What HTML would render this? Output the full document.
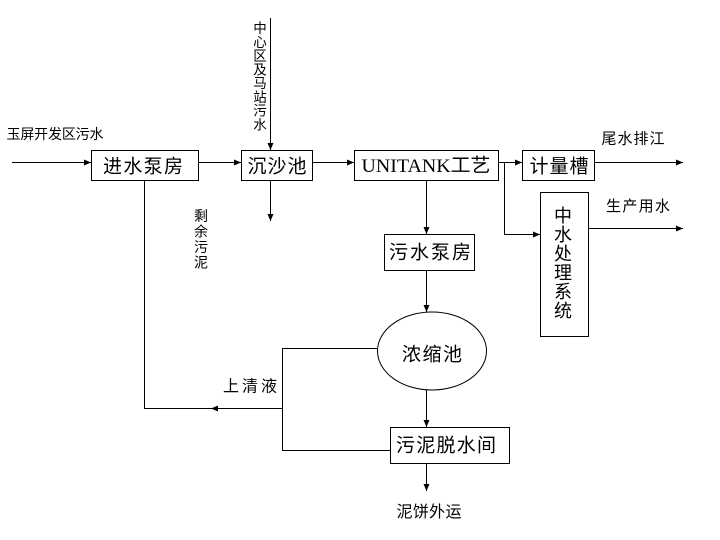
<!DOCTYPE html>
<html><head><meta charset="utf-8"><style>
html,body{margin:0;padding:0;background:#fff;}
svg{display:block;}
text{font-family:"Liberation Sans","Noto Sans CJK SC",sans-serif;fill:#000;dominant-baseline:central;}
.s{font-family:"Liberation Serif","Noto Sans CJK SC",serif;}
</style></head><body>
<svg width="720" height="540" viewBox="0 0 720 540" xmlns="http://www.w3.org/2000/svg">
<defs>
<marker id="a" markerWidth="8" markerHeight="8" refX="7" refY="4" orient="auto" markerUnits="userSpaceOnUse">
<path d="M0,1 L7,4 L0,7 Z" fill="#000"/>
</marker>
</defs>
<g stroke="#000" stroke-width="1" fill="none">
<!-- boxes -->
<rect x="91.5" y="150.5" width="107" height="30"/>
<rect x="241.5" y="150.5" width="71" height="30"/>
<rect x="354.5" y="150.5" width="144" height="30"/>
<rect x="522.5" y="150.5" width="72" height="30"/>
<rect x="540.5" y="192.5" width="48" height="144"/>
<rect x="384.5" y="234.5" width="90" height="36"/>
<ellipse cx="432" cy="351" rx="54.5" ry="39"/>
<rect x="390.5" y="427.5" width="119" height="36"/>
<!-- connectors -->
<line x1="12" y1="162.5" x2="91" y2="162.5" marker-end="url(#a)"/>
<line x1="199" y1="162.5" x2="241" y2="162.5" marker-end="url(#a)"/>
<line x1="313" y1="162.5" x2="354" y2="162.5" marker-end="url(#a)"/>
<line x1="499" y1="162.5" x2="522" y2="162.5" marker-end="url(#a)"/>
<line x1="595" y1="162.5" x2="683" y2="162.5" marker-end="url(#a)"/>
<line x1="270.5" y1="18" x2="270.5" y2="150" marker-end="url(#a)"/>
<line x1="270.5" y1="181" x2="270.5" y2="221" marker-end="url(#a)"/>
<polyline points="504.5,162.5 504.5,234.5 540,234.5" marker-end="url(#a)"/>
<line x1="589" y1="228.5" x2="683" y2="228.5" marker-end="url(#a)"/>
<line x1="426.5" y1="181" x2="426.5" y2="234" marker-end="url(#a)"/>
<line x1="426.5" y1="271" x2="426.5" y2="312" marker-end="url(#a)"/>
<line x1="426.5" y1="390" x2="426.5" y2="427" marker-end="url(#a)"/>
<line x1="426.5" y1="464" x2="426.5" y2="491" marker-end="url(#a)"/>
<polyline points="144.5,181 144.5,408.5 282.5,408.5"/>
<line x1="282.5" y1="408.5" x2="211" y2="408.5" marker-end="url(#a)"/>
<polyline points="378,348.5 282.5,348.5 282.5,450.5 390,450.5"/>
</g>
<!-- box labels -->
<text x="143" y="167" font-size="19" text-anchor="middle" textLength="80" lengthAdjust="spacing">进水泵房</text>
<text x="277" y="167" font-size="19" text-anchor="middle" textLength="59" lengthAdjust="spacing">沉沙池</text>
<text x="426" y="166" font-size="19" text-anchor="middle" textLength="129" lengthAdjust="spacingAndGlyphs"><tspan class="s">UNITANK</tspan>工艺</text>
<text x="559" y="167" font-size="19" text-anchor="middle" textLength="59" lengthAdjust="spacing">计量槽</text>
<text x="430" y="253" font-size="19" text-anchor="middle" textLength="82" lengthAdjust="spacing">污水泵房</text>
<text x="432" y="355" font-size="19" text-anchor="middle" textLength="60" lengthAdjust="spacing">浓缩池</text>
<text x="446" y="446" font-size="19" text-anchor="middle" textLength="100" lengthAdjust="spacing">污泥脱水间</text>
<!-- vertical 中水处理系统 -->
<g font-size="18" text-anchor="middle">
<text x="563" y="216">中</text>
<text x="563" y="235">水</text>
<text x="563" y="254">处</text>
<text x="563" y="273">理</text>
<text x="563" y="292">系</text>
<text x="563" y="311">统</text>
</g>
<!-- small labels -->
<text x="55" y="134" font-size="14" text-anchor="middle" textLength="97" lengthAdjust="spacing">玉屏开发区污水</text>
<text x="633" y="139" font-size="15" text-anchor="middle" textLength="63" lengthAdjust="spacing">尾水排江</text>
<text x="638" y="206.5" font-size="15" text-anchor="middle" textLength="64" lengthAdjust="spacing">生产用水</text>
<text x="250" y="387" font-size="16" text-anchor="middle" textLength="54" lengthAdjust="spacing">上清液</text>
<text x="429" y="512.5" font-size="16" text-anchor="middle" textLength="65" lengthAdjust="spacing">泥饼外运</text>
<!-- vertical 中心区及马站污水 -->
<g font-size="13.5" text-anchor="middle">
<text x="260" y="28.6">中</text>
<text x="260" y="42.4">心</text>
<text x="260" y="56.1">区</text>
<text x="260" y="69.9">及</text>
<text x="260" y="83.6">马</text>
<text x="260" y="97.4">站</text>
<text x="260" y="111.1">污</text>
<text x="260" y="124.9">水</text>
</g>
<!-- vertical 剩余污泥 -->
<g font-size="14" text-anchor="middle">
<text x="201" y="215.8">剩</text>
<text x="201" y="231.3">余</text>
<text x="201" y="246.8">污</text>
<text x="201" y="262.3">泥</text>
</g>
</svg>
</body></html>
